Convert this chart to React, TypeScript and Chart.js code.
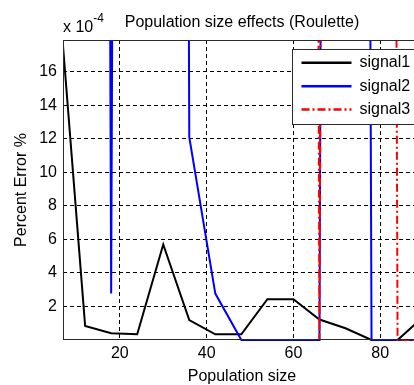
import React, { useEffect, useRef } from "react";
import { Chart, registerables } from "chart.js";

Chart.register(...registerables);

// Population sizes (x axis)
const populationSizes = [6, 12, 18, 24, 30, 36, 42, 48, 54, 60, 66, 72, 78, 84, 90];
// Percent error values, expressed in units of 1e-4 (axis shows "x 10^-4")
const signal1 = [20.5, 0.84, 0.4, 0.34, 5.7, 1.19, 0.34, 0.34, 2.43, 2.43, 1.22, 0.7, 0, 0, 1.4];
const signal2 = [450, 420, 2.77, 400, 430, 12.1, 2.77, 0, 0, 0, 0, 420, 0, 0, 0];
const signal3 = [500, 500, 500, 500, 500, 500, 500, 500, 500, 500, 0, 450, 450, 0, 0];
const seriesNames = ["signal1", "signal2", "signal3"];
const seriesColors = ["#000000", "#0000ff", "#ff0000"];
const xTicks = [20, 40, 60, 80];
const yTicks = [2, 4, 6, 8, 10, 12, 14, 16];

const chartTitle = "Population size effects (Roulette)";
const xTitle = "Population size";
const yTitle = "Percent Error %";

const FONT = "'Liberation Sans', Arial, Helvetica, sans-serif";
const redDash = [8, 3, 2, 3];

const decorPlugin = {
  id: "decor",
  afterDatasetsDraw(chart: any) {
    const { ctx, chartArea: a } = chart;
    ctx.save();
    ctx.strokeStyle = "#2a2a2a";
    ctx.lineWidth = 1;
    ctx.setLineDash([]);
    ctx.strokeRect(a.left + 0.5, a.top + 0.5, a.right - a.left - 1, a.bottom - a.top - 1);
    ctx.restore();
  },
  afterDraw(chart: any) {
    const { ctx, chartArea: a } = chart;
    ctx.save();
    ctx.fillStyle = "#000";
    // Title
    ctx.font = `16px ${FONT}`;
    ctx.textAlign = "center";
    ctx.textBaseline = "alphabetic";
    ctx.fillText(chartTitle, (a.left + a.right) / 2, a.top - 12.7);
    // exponent label
    ctx.textAlign = "left";
    ctx.fillText("x 10", a.left, a.top - 8.3);
    const w = ctx.measureText("x 10").width;
    ctx.font = `12px ${FONT}`;
    ctx.fillText("-4", a.left + w, a.top - 18.3);
    // x title
    ctx.font = `16px ${FONT}`;
    ctx.textAlign = "center";
    ctx.fillText(xTitle, (a.left + a.right) / 2, a.bottom + 40.5);
    // y title
    ctx.save();
    ctx.translate(26, (a.top + a.bottom) / 2);
    ctx.rotate(-Math.PI / 2);
    ctx.fillText(yTitle, 0, 0);
    ctx.restore();

    // Legend
    const bx = Math.round(a.right - 129) + 0.5;
    const by = Math.round(a.top + 9) + 0.5;
    const bw = 126;
    const bh = 75;
    ctx.fillStyle = "#ffffff";
    ctx.fillRect(bx, by, bw, bh);
    ctx.strokeStyle = "#2a2a2a";
    ctx.lineWidth = 1;
    ctx.strokeRect(bx, by, bw, bh);
    const rows = [13.3, 36.7, 60];
    seriesNames.forEach((name, i) => {
      const cy = by + rows[i];
      ctx.beginPath();
      ctx.strokeStyle = seriesColors[i];
      ctx.lineWidth = 2.5;
      ctx.setLineDash(i === 2 ? redDash : []);
      ctx.moveTo(bx + 9, cy);
      ctx.lineTo(bx + 59, cy);
      ctx.stroke();
      ctx.setLineDash([]);
      ctx.fillStyle = "#000";
      ctx.font = `16px ${FONT}`;
      ctx.textAlign = "left";
      ctx.textBaseline = "middle";
      ctx.fillText(name, bx + 67, cy);
    });
    ctx.restore();
  },
};

export default function App() {
  const canvasRef = useRef<HTMLCanvasElement | null>(null);

  useEffect(() => {
    const canvas = canvasRef.current;
    if (!canvas) return;
    const mk = (vals: number[]) => populationSizes.map((x, i) => ({ x, y: vals[i] }));
    const chart = new Chart(canvas, {
      type: "line",
      data: {
        datasets: [
          {
            label: seriesNames[0],
            data: mk(signal1),
            borderColor: seriesColors[0],
            borderWidth: 2,
            pointRadius: 0,
            tension: 0,
            order: 2,
            clip: { left: 0, top: 0, right: 0, bottom: 1 } as any,
          },
          {
            label: seriesNames[1],
            data: mk(signal2),
            borderColor: seriesColors[1],
            borderWidth: 2,
            pointRadius: 0,
            tension: 0,
            order: 1,
            clip: { left: 0, top: 0, right: 0, bottom: 1 } as any,
          },
          {
            label: seriesNames[2],
            data: mk(signal3),
            borderColor: seriesColors[2],
            borderWidth: 2,
            borderDash: redDash,
            pointRadius: 0,
            tension: 0,
            order: 0,
            clip: { left: 0, top: 0, right: 0, bottom: 1 } as any,
          },
        ],
      },
      options: {
        animation: false,
        responsive: false,
        devicePixelRatio: 1,
        layout: { padding: { top: 40, right: 9, left: 0, bottom: 0 } },
        plugins: {
          legend: { display: false },
          title: { display: false },
          tooltip: { enabled: false },
        },
        events: [],
        scales: {
          x: {
            type: "linear",
            min: 6.9,
            max: 89.4,
            afterBuildTicks: (scale: any) => {
              scale.ticks = xTicks.map((v) => ({ value: v }));
            },
            afterFit: (scale: any) => {
              scale.height = 45;
            },
            grid: { color: "#000", lineWidth: 1, drawTicks: false },
            border: { display: false, dash: [4, 3] },
            ticks: {
              color: "#000",
              padding: 4,
              maxRotation: 0,
              font: { family: FONT, size: 16 },
            },
          },
          y: {
            type: "linear",
            min: 0,
            max: 17.9,
            afterBuildTicks: (scale: any) => {
              scale.ticks = yTicks.map((v) => ({ value: v }));
            },
            afterFit: (scale: any) => {
              scale.width = 63;
            },
            grid: { color: "#000", lineWidth: 1, drawTicks: false },
            border: { display: false, dash: [4, 3] },
            ticks: {
              color: "#000",
              padding: 6,
              font: { family: FONT, size: 16 },
            },
          },
        },
      },
      plugins: [decorPlugin],
    } as any);
    return () => chart.destroy();
  }, []);

  return (
    <div
      style={{
        position: "absolute",
        left: 0,
        top: 0,
        width: 414,
        height: 385,
        overflow: "hidden",
        background: "#fff",
      }}
    >
      <canvas ref={canvasRef} width={430} height={385} style={{ width: 430, height: 385, display: "block" }} />
    </div>
  );
}
